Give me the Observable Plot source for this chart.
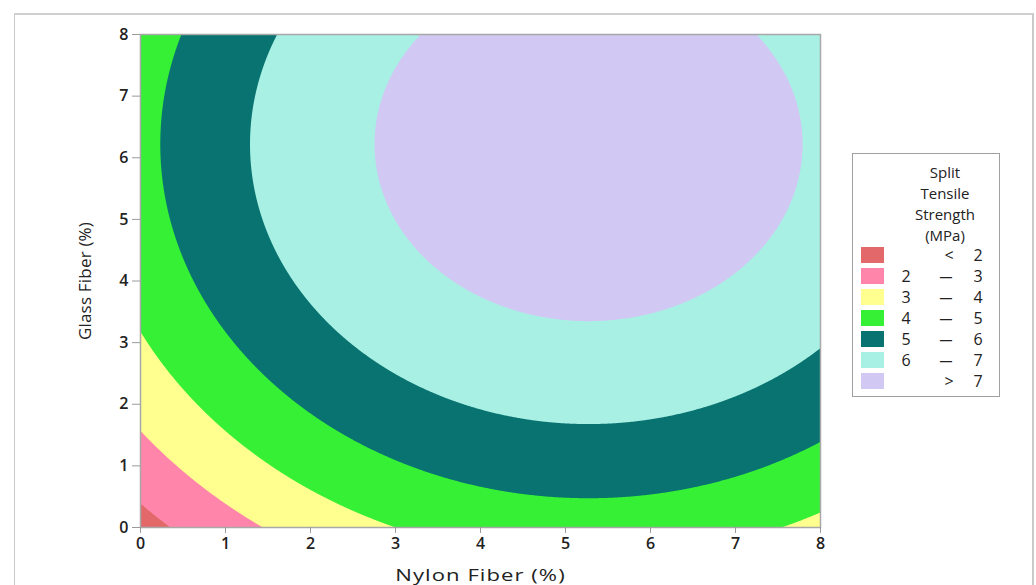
<!DOCTYPE html>
<html>
<head>
<meta charset="utf-8">
<script src="https://cdn.jsdelivr.net/npm/d3@7"></script>
<script src="https://cdn.jsdelivr.net/npm/@observablehq/plot@0.6"></script>
<style>
  html, body { margin: 0; padding: 0; background: #fff; }
  #wrap { position: relative; width: 1036px; height: 585px; overflow: hidden; font-family: "Open Sans", "Noto Sans", sans-serif; }
  #chart { position: absolute; left: 0; top: 0; }
  #chart [aria-label="x-axis tick label"] text, #chart [aria-label="y-axis tick label"] text { font-weight: 600; }
  #chart [aria-label="x-axis label"] text { font-size: 17px; letter-spacing: 0.8px; font-weight: 400; }
  #chart [aria-label="y-axis label"] text { font-size: 17px; letter-spacing: 0.2px; font-weight: 400; }
  #outer { position: absolute; left: 14px; top: 13px; width: 1020px; height: 600px; border-left: 1px solid #c9c9c9; border-top: 2px solid #d0d0d0; border-right: 2px solid #c9c9c9; box-sizing: border-box; pointer-events: none; }
  #legend { position: absolute; left: 852px; top: 153px; width: 148px; height: 244px; border: 1px solid #a0a0a0; box-sizing: border-box; background: #fff; color: #222; font-size: 15px; }
  #legend .ttl { position: absolute; left: 30px; width: 124px; text-align: center; line-height: 20px; }
  #legend .sw { position: absolute; left: 8px; width: 23px; height: 16px; }
  #legend .t { position: absolute; line-height: 20px; text-align: center; width: 16px; font-size: 16px; }
  #legend .dash { transform: scaleX(1.8); }
</style>
</head>
<body>
<div id="wrap">
  <div id="chart"></div>
  <div id="outer"></div>
  <div id="legend"></div>
</div>
<script>
// Axis ticks
const nylonTicks = [0, 1, 2, 3, 4, 5, 6, 7, 8];
const glassTicks = [0, 1, 2, 3, 4, 5, 6, 7, 8];
// Fitted response-surface model: Strength = b0 + b1*N + b2*G + b11*N^2 + b22*G^2
const modelTerms = ["1", "N", "G", "N^2", "G^2"];
const modelCoef = [1.623, 1.107, 1.005, -0.105, -0.0808];
// Contour bands
const thresholds = [2, 3, 4, 5, 6, 7];
const bandColors = ["#e2686a", "#ff85aa", "#ffff8f", "#36f036", "#087370", "#a8f0e4", "#d1c8f3"];
const bandLow = ["", "2", "3", "4", "5", "6", ""];
const bandOp = ["<", "–", "–", "–", "–", "–", ">"];
const bandHigh = ["2", "3", "4", "5", "6", "7", "7"];
const legendTitle = ["Split", "Tensile", "Strength", "(MPa)"];

const coef = Object.fromEntries(modelTerms.map((t, i) => [t, modelCoef[i]]));
const strength = (n, g) => coef["1"] + coef["N"] * n + coef["G"] * g + coef["N^2"] * n * n + coef["G^2"] * g * g;

const plot = Plot.plot({
  width: 1036,
  height: 585,
  marginLeft: 140,
  marginRight: 216,
  marginTop: 34,
  marginBottom: 58,
  style: { fontFamily: "'Open Sans', 'Noto Sans', sans-serif", fontSize: "16px", color: "#222", background: "transparent" },
  x: { domain: [0, 8] },
  y: { domain: [0, 8] },
  color: { type: "threshold", domain: thresholds, range: bandColors },
  marks: [
    Plot.contour({
      x1: 0, y1: 0, x2: 8, y2: 8,
      value: strength,
      thresholds: [0, ...thresholds],
      fill: "value",
      stroke: "none",
      pixelSize: 1
    }),
    Plot.frame({ stroke: "#a8a8a8", strokeWidth: 1.5 }),
    Plot.axisX({ ticks: nylonTicks, tickSize: 6, tickPadding: 4, fontSize: 16, stroke: "#9a9a9a", label: "Nylon Fiber (%)", labelAnchor: "center", labelArrow: "none", labelOffset: 53, fill: "#222" }),
    Plot.axisY({ ticks: glassTicks, tickSize: 8, tickPadding: 4, fontSize: 16, stroke: "#9a9a9a", label: "Glass Fiber (%)", labelAnchor: "center", labelArrow: "none", labelOffset: 62, fill: "#222" })
  ]
});
document.getElementById("chart").appendChild(plot);
// widen the x-axis title like the reference (horizontal stretch around its anchor)
plot.querySelectorAll('[aria-label="x-axis label"] text').forEach((t) => {
  const tr = t.getAttribute("transform") || "";
  t.setAttribute("transform", (tr + " scale(1.3,1)").trim());
});

// Legend
const lg = document.getElementById("legend");
legendTitle.forEach((t, i) => {
  const d = document.createElement("div");
  d.className = "ttl";
  d.style.top = (8 + i * 21) + "px";
  d.textContent = t;
  lg.appendChild(d);
});
bandColors.forEach((c, i) => {
  const top = 93 + i * 21;
  const sw = document.createElement("div");
  sw.className = "sw";
  sw.style.top = top + "px";
  sw.style.background = c;
  lg.appendChild(sw);
  [[bandLow[i], 45, ""], [bandOp[i], bandOp[i] === "–" ? 85 : 88, bandOp[i] === "–" ? " dash" : ""], [bandHigh[i], 117, ""]].forEach(([s, x, cls]) => {
    const t = document.createElement("div");
    t.className = "t" + cls;
    t.style.left = x + "px";
    t.style.top = (top - 2) + "px";
    t.textContent = s;
    lg.appendChild(t);
  });
});
</script>
</body>
</html>
